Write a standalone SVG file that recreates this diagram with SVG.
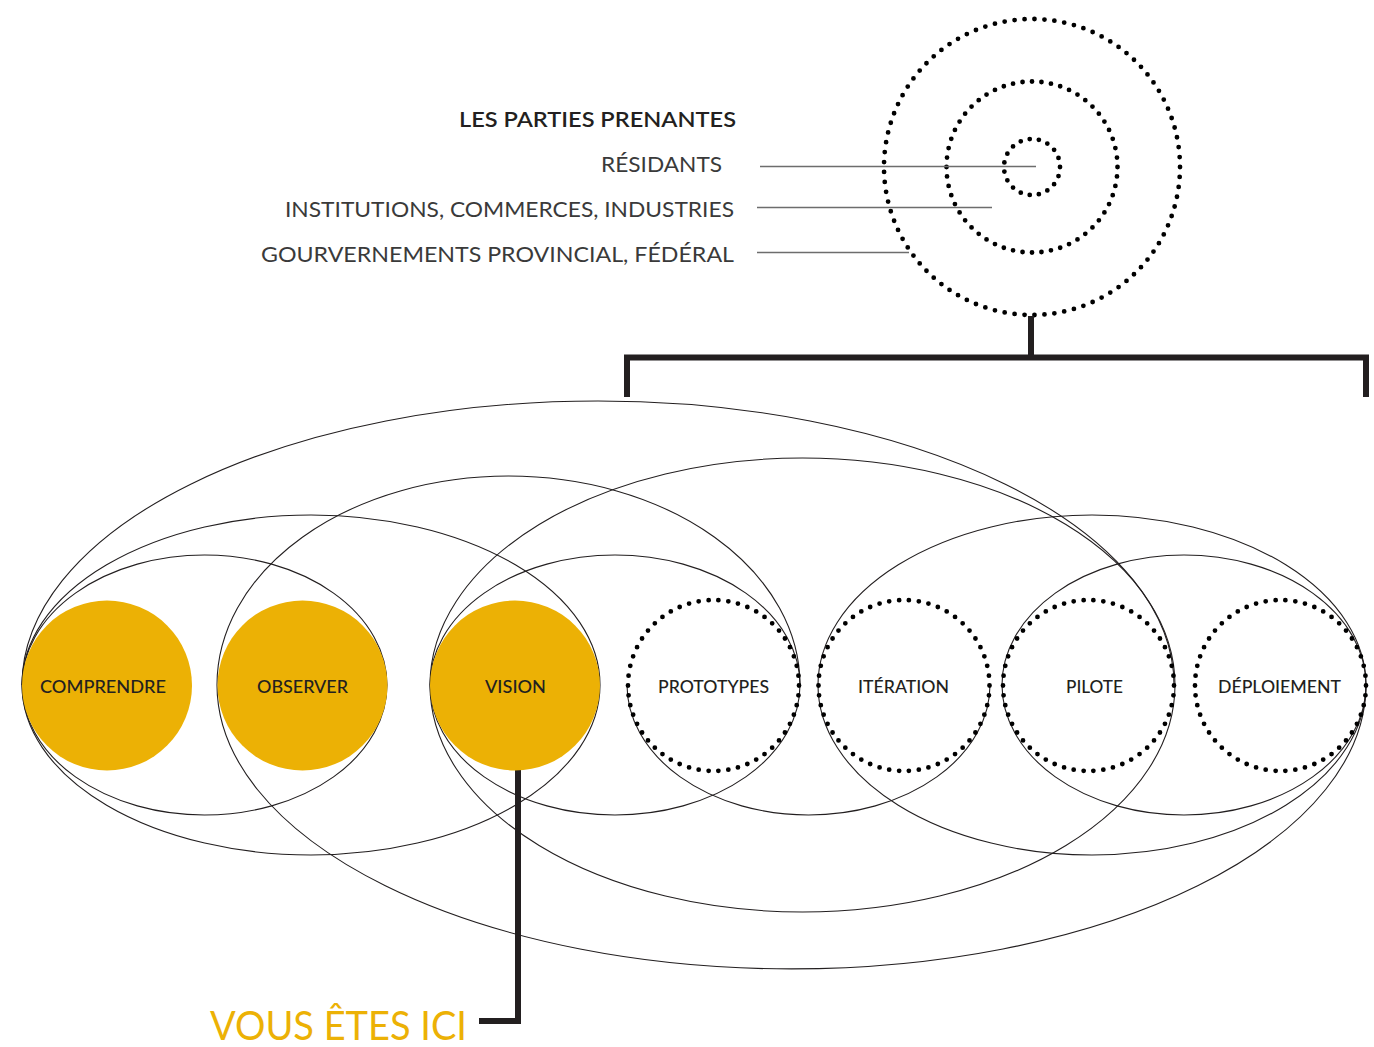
<svg xmlns="http://www.w3.org/2000/svg" width="1374" height="1047" viewBox="0 0 1374 1047">
<style>
.ell{fill:none;stroke:#231f20;stroke-width:1.1}
.dots{fill:none;stroke:#000;stroke-linecap:round;stroke-dasharray:0 1}
.lead{stroke:#6d6d6d;stroke-width:1.3;fill:none}
.bar{fill:none;stroke:#231f20;stroke-width:6;stroke-linejoin:miter;stroke-linecap:butt}
.yel{fill:#ecb105}
.lbl{font-family:Lato,"Noto Sans",sans-serif;font-size:18px;font-weight:500;fill:#231f20;text-anchor:middle}
.side{font-family:Lato,"Noto Sans",sans-serif;font-size:21px;fill:#3a3a3a;text-anchor:end}
.title{font-family:Lato,"Noto Sans",sans-serif;font-size:21px;font-weight:600;fill:#231f20;text-anchor:end}
.here{font-family:Lato,"Noto Sans",sans-serif;font-size:40px;font-weight:400;fill:#ecb105}
</style>
<rect width="1374" height="1047" fill="#fff"/>
<g id="stakeholders">
<circle class="dots" cx="1032" cy="167" r="148" pathLength="93" stroke-width="4.8"/>
<circle class="dots" cx="1032" cy="167" r="85.5" pathLength="56" stroke-width="4.8"/>
<circle class="dots" cx="1032" cy="167" r="28" pathLength="19" stroke-width="4.8"/>
<text class="title" x="736" y="127" textLength="277" lengthAdjust="spacingAndGlyphs">LES PARTIES PRENANTES</text>
<text class="side" x="722" y="172" textLength="121" lengthAdjust="spacingAndGlyphs">RÉSIDANTS</text>
<text class="side" x="734" y="217" textLength="449" lengthAdjust="spacingAndGlyphs">INSTITUTIONS, COMMERCES, INDUSTRIES</text>
<text class="side" x="734" y="262" textLength="473" lengthAdjust="spacingAndGlyphs">GOURVERNEMENTS PROVINCIAL, FÉDÉRAL</text>
</g>
<g id="connectors">
<line class="lead" x1="760" y1="166.5" x2="1036" y2="166.5"/>
<line class="lead" x1="757" y1="207.5" x2="992" y2="207.5"/>
<line class="lead" x1="757" y1="252.5" x2="909" y2="252.5"/>
<line class="bar" x1="1031" y1="316" x2="1031" y2="358"/>
<polyline class="bar" points="627,397 627,357.5 1366,357.5 1366,397"/>
<polyline class="bar" points="518,770 518,1021 479,1021"/>
</g>
<g id="groupings">
<ellipse class="ell" cx="204.5" cy="685" rx="182.5" ry="130"/>
<ellipse class="ell" cx="311" cy="685" rx="289" ry="170"/>
<path class="ell" d="M22 685 A576 284 0 0 1 1174 685"/>
<path class="ell" d="M217 685 A291.5 209 0 0 1 800 685"/>
<path class="ell" d="M217 685 A574.5 284 0 0 0 1366 685"/>
<ellipse class="ell" cx="615" cy="685" rx="185" ry="130"/>
<ellipse class="ell" cx="802.5" cy="685" rx="372.5" ry="227"/>
<path class="ell" d="M627 685 A181.5 130 0 0 0 990 685"/>
<ellipse class="ell" cx="1092" cy="685" rx="274" ry="170"/>
<ellipse class="ell" cx="1184" cy="685" rx="182" ry="130"/>
</g>
<g id="comprendre">
<circle class="yel" cx="107" cy="685.5" r="85"/>
<text class="lbl" x="103" y="693" textLength="126" lengthAdjust="spacingAndGlyphs">COMPRENDRE</text>
</g>
<g id="observer">
<circle class="yel" cx="302.5" cy="685.5" r="85"/>
<text class="lbl" x="302.5" y="693" textLength="91" lengthAdjust="spacingAndGlyphs">OBSERVER</text>
</g>
<g id="vision">
<circle class="yel" cx="515" cy="685.5" r="85"/>
<text class="lbl" x="515.5" y="693" textLength="61" lengthAdjust="spacingAndGlyphs">VISION</text>
</g>
<g id="prototypes">
<circle class="dots" cx="713.5" cy="685.5" r="85.5" pathLength="54" stroke-width="4.8"/>
<text class="lbl" x="713.5" y="693" textLength="111" lengthAdjust="spacingAndGlyphs">PROTOTYPES</text>
</g>
<g id="iteration">
<circle class="dots" cx="904" cy="685.5" r="85.5" pathLength="54" stroke-width="4.8"/>
<text class="lbl" x="903.5" y="693" textLength="91" lengthAdjust="spacingAndGlyphs">ITÉRATION</text>
</g>
<g id="pilote">
<circle class="dots" cx="1088.5" cy="685.5" r="85.5" pathLength="54" stroke-width="4.8"/>
<text class="lbl" x="1094.5" y="693" textLength="57" lengthAdjust="spacingAndGlyphs">PILOTE</text>
</g>
<g id="deploiement">
<circle class="dots" cx="1280.5" cy="685.5" r="85.5" pathLength="54" stroke-width="4.8"/>
<text class="lbl" x="1279.5" y="693" textLength="123" lengthAdjust="spacingAndGlyphs">DÉPLOIEMENT</text>
</g>
<g id="vous-etes-ici">
<text class="here" x="210" y="1040" textLength="257" lengthAdjust="spacingAndGlyphs">VOUS ÊTES ICI</text>
</g>
</svg>
